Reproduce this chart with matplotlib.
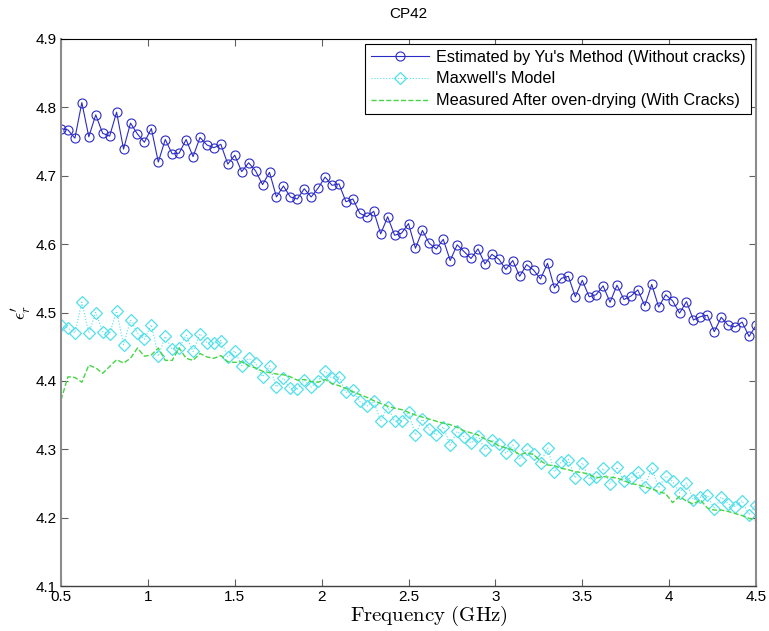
import numpy as np
import matplotlib
matplotlib.use('Agg')
import matplotlib.pyplot as plt

plt.rcParams['font.family'] = ['Liberation Sans', 'DejaVu Sans']
plt.rcParams['mathtext.fontset'] = 'cm'

# frequency sweep 0.5 - 4.5 GHz, 101 points
freq = np.linspace(0.5, 4.5, 101)

# relative permittivity, Yu's method (no cracks)
eps_yu = [
    4.769, 4.767, 4.755, 4.807, 4.757, 4.789, 4.762, 4.758, 4.793, 4.739,
    4.777, 4.761, 4.749, 4.769, 4.720, 4.753, 4.732, 4.733, 4.753, 4.728,
    4.756, 4.745, 4.741, 4.746, 4.717, 4.730, 4.706, 4.719, 4.707, 4.687,
    4.705, 4.669, 4.685, 4.669, 4.666, 4.681, 4.669, 4.682, 4.698, 4.686,
    4.688, 4.662, 4.666, 4.645, 4.640, 4.648, 4.615, 4.640, 4.613, 4.616,
    4.630, 4.594, 4.620, 4.601, 4.593, 4.607, 4.576, 4.599, 4.589, 4.579,
    4.593, 4.571, 4.585, 4.578, 4.563, 4.576, 4.553, 4.570, 4.562, 4.549,
    4.572, 4.536, 4.550, 4.553, 4.523, 4.547, 4.523, 4.526, 4.539, 4.515,
    4.540, 4.519, 4.524, 4.533, 4.510, 4.541, 4.508, 4.526, 4.517, 4.499,
    4.516, 4.489, 4.494, 4.496, 4.472, 4.493, 4.481, 4.479, 4.486, 4.465,
    4.481,
]

# Maxwell mixing model
eps_maxwell = [
    4.482, 4.477, 4.470, 4.515, 4.470, 4.500, 4.472, 4.469, 4.502, 4.453,
    4.489, 4.470, 4.461, 4.482, 4.436, 4.465, 4.446, 4.448, 4.467, 4.443,
    4.469, 4.456, 4.455, 4.459, 4.435, 4.444, 4.422, 4.433, 4.426, 4.406,
    4.422, 4.391, 4.404, 4.389, 4.388, 4.401, 4.391, 4.400, 4.414, 4.404,
    4.406, 4.383, 4.387, 4.370, 4.363, 4.370, 4.341, 4.362, 4.341, 4.342,
    4.354, 4.321, 4.344, 4.329, 4.321, 4.333, 4.306, 4.326, 4.318, 4.309,
    4.320, 4.299, 4.314, 4.307, 4.294, 4.306, 4.285, 4.300, 4.293, 4.280,
    4.302, 4.267, 4.282, 4.285, 4.258, 4.280, 4.257, 4.259, 4.272, 4.249,
    4.274, 4.253, 4.258, 4.267, 4.245, 4.273, 4.243, 4.261, 4.253, 4.236,
    4.251, 4.226, 4.230, 4.233, 4.213, 4.230, 4.220, 4.216, 4.225, 4.204,
    4.219,
]

# measured after oven-drying (with cracks)
eps_measured = [
    4.372, 4.406, 4.405, 4.398, 4.423, 4.419, 4.411, 4.421, 4.431, 4.426,
    4.433, 4.448, 4.436, 4.438, 4.448, 4.430, 4.430, 4.448, 4.433, 4.430,
    4.440, 4.435, 4.433, 4.437, 4.428, 4.427, 4.428, 4.422, 4.419, 4.414,
    4.412, 4.410, 4.409, 4.406, 4.401, 4.402, 4.399, 4.398, 4.402, 4.396,
    4.393, 4.389, 4.384, 4.380, 4.376, 4.371, 4.367, 4.363, 4.360, 4.358,
    4.354, 4.350, 4.347, 4.344, 4.341, 4.338, 4.336, 4.332, 4.327, 4.324,
    4.321, 4.315, 4.311, 4.305, 4.302, 4.299, 4.292, 4.295, 4.292, 4.283,
    4.277, 4.276, 4.272, 4.270, 4.267, 4.266, 4.263, 4.258, 4.260, 4.259,
    4.258, 4.254, 4.250, 4.248, 4.245, 4.242, 4.238, 4.235, 4.222, 4.231,
    4.224, 4.220, 4.226, 4.214, 4.211, 4.211, 4.209, 4.206, 4.203, 4.199,
    4.196,
]

xticks = [0.5, 1, 1.5, 2, 2.5, 3, 3.5, 4, 4.5]
xticklabels = ['0.5', '1', '1.5', '2', '2.5', '3', '3.5', '4', '4.5']
yticks = [4.1, 4.2, 4.3, 4.4, 4.5, 4.6, 4.7, 4.8, 4.9]

fig = plt.figure(figsize=(7.69, 6.31), dpi=100)
ax = fig.add_axes([61 / 769, 1 - 586 / 631, 695 / 769, 547 / 631])

ax.plot(freq, eps_yu, '-o', color='#2b2bc8', lw=0.8, ms=6.5, mfc='none', mew=0.8,
        label="Estimated by Yu's Method (Without cracks)")
ax.plot(freq, eps_maxwell, ':D', color='#52e0ea', lw=0.8, ms=6, mfc='none', mew=0.9,
        label="Maxwell's Model")
ax.plot(freq, eps_measured, '--', color='#45d645', lw=1.0,
        label='Measured After oven-drying (With Cracks)')

ax.set_xlim(0.5, 4.5)
ax.set_ylim(4.1, 4.9)
ax.set_xticks(xticks)
ax.set_xticklabels(xticklabels)
ax.set_yticks(yticks)
ax.set_yticklabels(['%.1f' % v for v in yticks])
ax.tick_params(direction='in', length=5, width=0.8, color='#606060',
               top=True, right=True, labelsize=11, pad=3)

for side in ['left', 'right']:
    ax.spines[side].set_color('#8c8c8c')
    ax.spines[side].set_linewidth(1.5)
ax.spines['top'].set_color('black')
ax.spines['top'].set_linewidth(0.8)
ax.spines['bottom'].set_color('#404040')
ax.spines['bottom'].set_linewidth(1.0)

ax.set_title('CP42', fontsize=11, pad=15)
ax.set_xlabel(r'$\mathrm{Frequency\ (GHz)}$', fontsize=15)
ax.xaxis.set_label_coords(0.53, -0.032)
ax.set_ylabel(r"$\epsilon_r'$", fontsize=13, labelpad=2)

leg = ax.legend(loc='upper right', fontsize=11.7, fancybox=False, framealpha=1,
                edgecolor='black', handlelength=3.6, labelspacing=0.42,
                borderaxespad=0.3, handletextpad=0.4, borderpad=0.35)
leg.get_frame().set_linewidth(0.8)

fig.savefig('out.png', dpi=100)
